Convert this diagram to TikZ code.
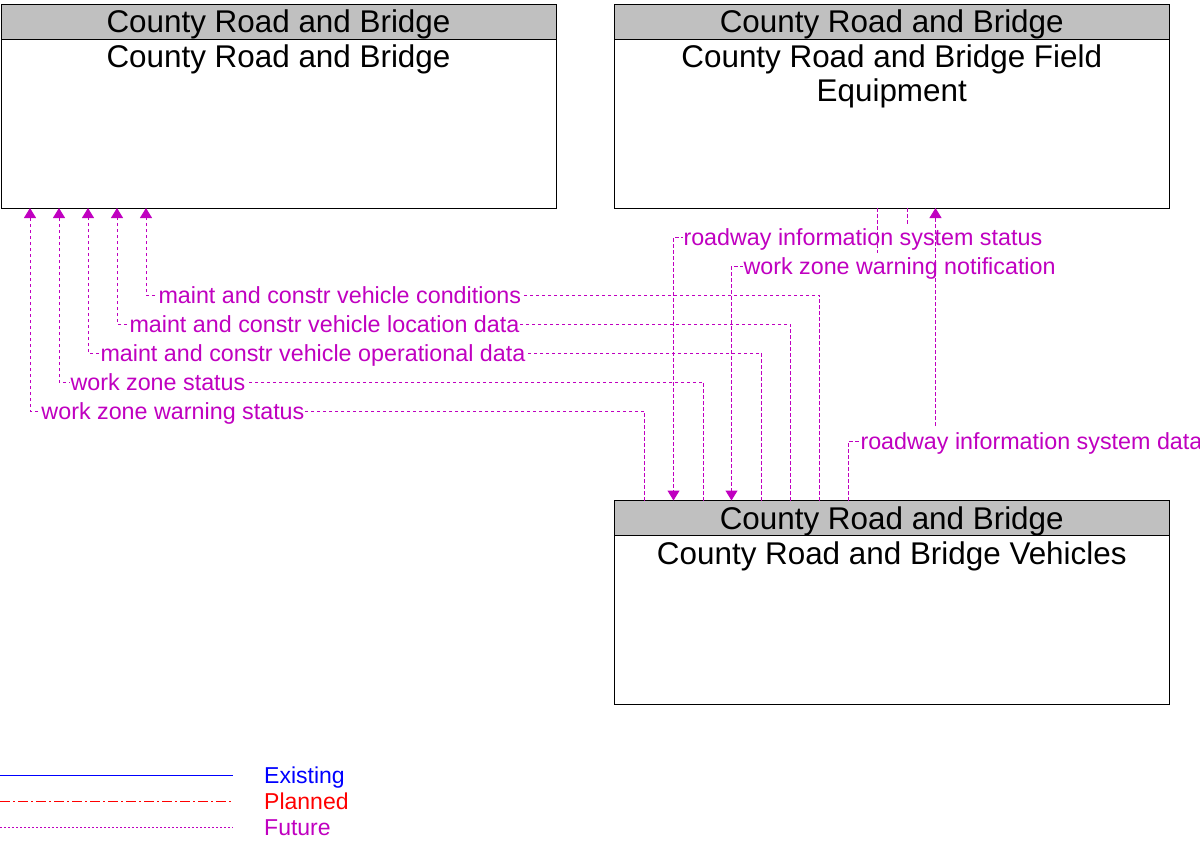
\documentclass[tikz,border=0pt]{standalone}
\usepackage{fontspec}
\setmainfont{Liberation Sans}
\usetikzlibrary{arrows.meta}
\pgfdeclarelayer{bg}
\pgfsetlayers{bg,main}
\definecolor{fut}{RGB}{192,0,192}
\definecolor{hdr}{RGB}{192,192,192}
\definecolor{exi}{RGB}{0,0,255}
\definecolor{pla}{RGB}{255,0,0}
\begin{document}
\begin{tikzpicture}[x=1pt,y=-1pt,
  box/.style={draw=black,line width=1pt,inner sep=0pt,outer sep=0pt,anchor=north west},
  boxtext/.style={anchor=base,inner sep=0pt,font=\fontsize{31.4}{34}\selectfont},
  conn/.style={fut,line width=1pt,dash pattern=on 3.5pt off 2.5pt,-{Triangle[width=12pt,length=10pt]}},
  lab/.style={anchor=west,fill=white,inner sep=1pt,text=fut,text height=20pt,text depth=4pt,font=\fontsize{23.3}{28}\selectfont},
  legtext/.style={anchor=west,inner sep=0pt,text height=20pt,text depth=4pt,font=\fontsize{23}{28}\selectfont}]
\useasboundingbox (0,0) rectangle (1200,855);

% boxes
\node[box,minimum width=555pt,minimum height=204pt] (A) at (1,4) {};
\node[box,minimum width=554.5pt,minimum height=204pt] (B) at (614.5,4) {};
\node[box,minimum width=554.5pt,minimum height=203.5pt] (C) at (614.5,500.5) {};

\begin{pgfonlayer}{bg}
\foreach \b in {A,B,C}{
  \fill[hdr] (\b.north west) rectangle ([yshift=-35pt]\b.north east);
}
\end{pgfonlayer}
\foreach \b in {A,B,C}{
  \draw[line width=1pt] ([yshift=-35pt]\b.north west) -- ([yshift=-35pt]\b.north east);
}

\node[boxtext] (At) at ([yshift=-28.5pt]A.north) {County Road and Bridge};
\node[boxtext] (Ab) at ([yshift=-63.5pt]A.north) {County Road and Bridge};
\node[boxtext] (Bt) at ([yshift=-28.5pt]B.north) {County Road and Bridge};
\node[boxtext] (Bb1) at ([yshift=-63.5pt]B.north) {County Road and Bridge Field};
\node[boxtext] (Bb2) at ([yshift=-97.5pt]B.north) {Equipment};
\node[boxtext] (Ct) at ([yshift=-28.5pt]C.north) {County Road and Bridge};
\node[boxtext] (Cb) at ([yshift=-63.5pt]C.north) {County Road and Bridge Vehicles};

% connectors C -> A
\draw[conn] ([xshift=205pt]C.north west) -- ++(0,-205.5) -| ([xshift=145pt]A.south west)
  node[lab] (l1) at (157,295) {maint and constr vehicle conditions};
\draw[conn] ([xshift=176pt]C.north west) -- ++(0,-176.5) -| ([xshift=116pt]A.south west)
  node[lab] (l2) at (128,324) {maint and constr vehicle location data};
\draw[conn] ([xshift=147pt]C.north west) -- ++(0,-147.5) -| ([xshift=87pt]A.south west)
  node[lab] (l3) at (99,353) {maint and constr vehicle operational data};
\draw[conn] ([xshift=89pt]C.north west) -- ++(0,-118.5) -| ([xshift=58pt]A.south west)
  node[lab] (l4) at (69,382) {work zone status};
\draw[conn] ([xshift=30pt]C.north west) -- ++(0,-89.5) -| ([xshift=29pt]A.south west)
  node[lab] (l5) at (40,411) {work zone warning status};

% connectors B -> C
\draw[conn] ([xshift=293pt]B.south west) -- ++(0,29) -| ([xshift=59pt]C.north west)
  node[lab] (l6) at (682,237) {roadway information system status};
\draw[conn] ([xshift=263pt]B.south west) -- ++(0,58) -| ([xshift=117pt]C.north west)
  node[lab] (l7) at (742,266) {work zone warning notification};

% connector C -> B
\draw[conn] ([xshift=234pt]C.north west) -- ++(0,-59.5) -| ([xshift=321pt]B.south west)
  node[lab] (l8) at (859,441) {roadway information system data};

% legend
\coordinate (e1) at (0,775); \coordinate (e2) at (233,775);
\coordinate (p1) at (0,801); \coordinate (p2) at (233,801);
\coordinate (f1) at (0,827); \coordinate (f2) at (233,827);
\draw[exi,line width=1pt] (e1) -- (e2);
\draw[pla,line width=1pt,dash pattern=on 10pt off 3pt on 2pt off 3pt] (p1) -- (p2);
\draw[fut,line width=1pt,dash pattern=on 2pt off 2pt] (f1) -- (f2);
\node[legtext,text=exi] (le) at (264,775) {Existing};
\node[legtext,text=pla] (lp) at (264,801) {Planned};
\node[legtext,text=fut] (lf) at (264,827) {Future};
\end{tikzpicture}
\end{document}
